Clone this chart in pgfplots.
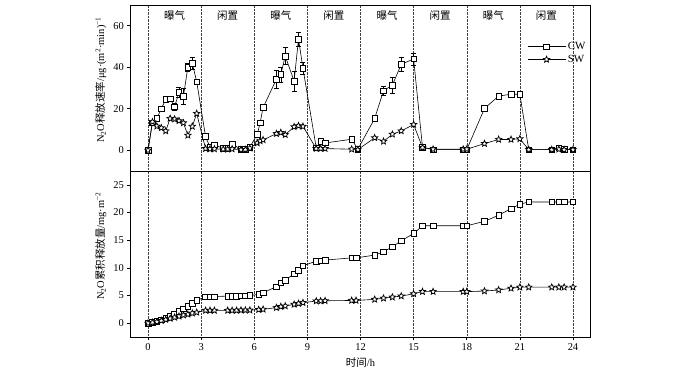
\documentclass[border=0pt]{standalone}
\usepackage{fontspec}
\setmainfont{Liberation Serif}
\newfontfamily\cjk{Noto Sans CJK SC}
\usepackage{pgfplots}
\pgfplotsset{compat=1.18}
\usepackage{pgfplotstable}

\pgfdeclareplotmark{ostar}{%
  \pgfpathmoveto{\pgfpointpolar{90}{\pgfplotmarksize}}%
  \pgfpathlineto{\pgfpointpolar{126}{0.45\pgfplotmarksize}}%
  \pgfpathlineto{\pgfpointpolar{162}{\pgfplotmarksize}}%
  \pgfpathlineto{\pgfpointpolar{198}{0.45\pgfplotmarksize}}%
  \pgfpathlineto{\pgfpointpolar{234}{\pgfplotmarksize}}%
  \pgfpathlineto{\pgfpointpolar{270}{0.45\pgfplotmarksize}}%
  \pgfpathlineto{\pgfpointpolar{306}{\pgfplotmarksize}}%
  \pgfpathlineto{\pgfpointpolar{342}{0.45\pgfplotmarksize}}%
  \pgfpathlineto{\pgfpointpolar{18}{\pgfplotmarksize}}%
  \pgfpathlineto{\pgfpointpolar{54}{0.45\pgfplotmarksize}}%
  \pgfpathclose
  \pgfusepathqfillstroke
}

\pgfplotstableread{
t v e
0 0 0
0.25 13.2 0.6
0.5 15.3 0.8
0.75 20 1
1.0 24.5 1
1.25 24.8 1
1.5 21 1.5
1.75 27.8 2.4
2.0 26 4
2.25 40 2
2.5 42 3
2.75 33 1
3.25 6.6 0.5
3.5 1.5 0.3
3.75 2.6 0.3
4.25 1.0 0.3
4.5 1.0 0.3
4.75 2.9 0.3
5.25 0.5 0.2
5.5 0.5 0.2
5.75 1.5 0.3
6.17 7.7 0.5
6.33 13.2 0.8
6.5 20.6 0.8
7.25 34.2 4.2
7.5 36.6 3.6
7.75 45.4 4
8.25 33.3 4.7
8.5 53.6 3.5
8.75 39.5 3
9.5 1.2 0.3
9.75 4.3 0.5
10.0 3.5 0.5
11.5 5.3 0.5
11.85 0.5 0.2
12.8 15.3 0.8
13.3 28.7 2.2
13.8 31.4 3.7
14.3 41.4 3.4
15.0 44 2.8
15.5 1.5 0.3
16.1 0.3 0.2
17.8 0.3 0.2
18.0 0.3 0.2
19.0 20.1 1.2
19.8 26.1 1.2
20.5 27 0.8
21.0 27 1
21.5 0.3 0.2
22.8 0.3 0.2
23.2 1.1 0.2
23.5 0.5 0.2
24.0 0.3 0.2
}\topcw

\pgfplotstableread{
t v
0 0
0.25 13.7
0.5 11.6
0.75 10.8
1.0 9.3
1.25 15.3
1.5 15
1.75 14.2
2.0 13.2
2.25 7.2
2.5 11.5
2.75 17.7
3.25 0.8
3.5 0.6
3.75 0.6
4.25 0.5
4.5 0.5
4.75 0.6
5.25 0.3
5.5 0.3
5.75 1.0
6.17 3.5
6.33 4.5
6.5 5
7.25 8
7.5 8.5
7.75 7.5
8.25 11.3
8.5 11.8
8.75 11.5
9.5 0.8
9.75 0.8
10.0 0.8
11.5 0.5
11.85 0.3
12.8 6
13.3 4.3
13.8 7.7
14.3 9.3
15.0 12.4
15.5 1.3
16.1 0.5
17.8 0.5
18.0 0.5
19.0 3.2
19.8 5.2
20.5 5.2
21.0 5.5
21.5 0.3
22.8 0.3
23.2 0.5
23.5 0.3
24.0 0.3
}\topsw

\pgfplotstableread{
t cw sw
0 0 0
0.25 0.15 0.12
0.5 0.35 0.25
0.75 0.6 0.45
1.0 0.95 0.65
1.25 1.3 0.85
1.5 1.7 1.05
1.75 2.1 1.25
2.0 2.6 1.45
2.25 3.1 1.6
2.5 3.6 1.8
2.75 4.15 1.95
3.25 4.75 2.3
3.5 4.8 2.3
3.75 4.8 2.3
4.5 4.9 2.3
4.75 4.9 2.3
5.0 4.9 2.3
5.25 4.95 2.35
5.5 4.95 2.35
5.75 5.0 2.35
6.25 5.2 2.45
6.5 5.5 2.5
7.25 6.6 2.8
7.5 7.3 3.0
7.75 7.8 3.1
8.25 8.9 3.4
8.5 9.6 3.55
8.75 10.4 3.7
9.5 11.2 4.0
9.75 11.3 4.0
10.0 11.4 4.05
11.5 11.8 4.1
11.75 11.8 4.1
12.8 12.3 4.3
13.3 12.9 4.5
13.8 13.8 4.7
14.3 14.9 4.9
15.0 16.2 5.3
15.5 17.6 5.7
16.1 17.6 5.7
17.8 17.6 5.7
18.0 17.6 5.7
19.0 18.4 5.8
19.8 19.5 6.0
20.5 20.7 6.3
21.0 21.5 6.5
21.5 21.9 6.5
22.8 21.9 6.5
23.2 21.9 6.5
23.5 21.9 6.5
24.0 21.9 6.5
}\cum

\pgfplotsset{
  myaxis/.style={
    scale only axis, width=460.4bp, height=166bp,
    xmin=-1, xmax=25,
    xtick={0,3,...,24},
    xmajorgrids,
    grid style={densely dotted, black!75, line width=0.5bp},
    tick align=outside, ytick pos=left,
    major tick length=3bp,
    axis line style={line width=0.7bp},
    tick style={black, line width=0.6bp},
    font=\fontsize{10.5}{12}\selectfont,
    /pgf/number format/assume math mode=true,
    ticklabel style={font=\fontsize{10.5}{12}\selectfont},
    ylabel style={xshift=8bp},
  },
  cwline/.style={black, line width=0.6bp, mark=square*, mark size=2.8bp, mark options={fill=white, solid, line width=0.6bp}},
  swline/.style={black, line width=0.6bp, mark=ostar, mark size=3.3bp, mark options={fill=white, solid, line width=0.75bp}},
}

\begin{document}
\begin{tikzpicture}
\useasboundingbox (0,0) rectangle (700bp,370bp);
\begin{axis}[myaxis, name=top,
  at={(130.3bp,199bp)}, anchor=south west,
  ymin=-10, ymax=70, ytick={0,20,40,60},
  xticklabels={}, x tick style={draw=none},
  ylabel={N\textsubscript{2}O{\cjk 释放速率}/μg·(m\textsuperscript{2}·min)\textsuperscript{−1}},
  legend style={at={(1,0.80)}, anchor=north east, draw=none, fill=none, font=\fontsize{11}{12}\selectfont, row sep=0bp},
  legend cell align=left,
  legend image code/.code={\draw[mark repeat=2,mark phase=2] plot coordinates {(0bp,0bp)(19bp,0bp)(38bp,0bp)};},
]
\addplot[cwline, error bars/.cd, y dir=both, y explicit,
  error bar style={line width=0.5bp, black},
  error mark options={rotate=90, mark size=2.5bp, line width=0.5bp, black}]
  table[x=t, y=v, y error=e] {\topcw};
\addlegendentry{CW}
\addplot[swline] table[x=t, y=v] {\topsw};
\addlegendentry{SW}
\foreach \c/\lab in {1.5/曝气, 4.5/闲置, 7.5/曝气, 10.5/闲置, 13.5/曝气, 16.5/闲置, 19.5/曝气, 22.5/闲置}{
  \edef\temp{\noexpand\node[font=\noexpand\cjk\noexpand\fontsize{10.5}{12}\noexpand\selectfont] at (axis cs:\c,65) {\lab};}
  \temp
}
\end{axis}
\begin{axis}[myaxis, name=bot,
  at={(130.3bp,33bp)}, anchor=south west,
  ymin=-2.5, ymax=27.5, ytick={0,5,...,25},
  xtick pos=bottom,
  xlabel={{\cjk 时间}/h},
  ylabel={N\textsubscript{2}O{\cjk 累积释放量}/mg·m\textsuperscript{−2}},
]
\addplot[cwline] table[x=t, y=cw] {\cum};
\addplot[swline] table[x=t, y=sw] {\cum};
\end{axis}
\end{tikzpicture}
\end{document}
